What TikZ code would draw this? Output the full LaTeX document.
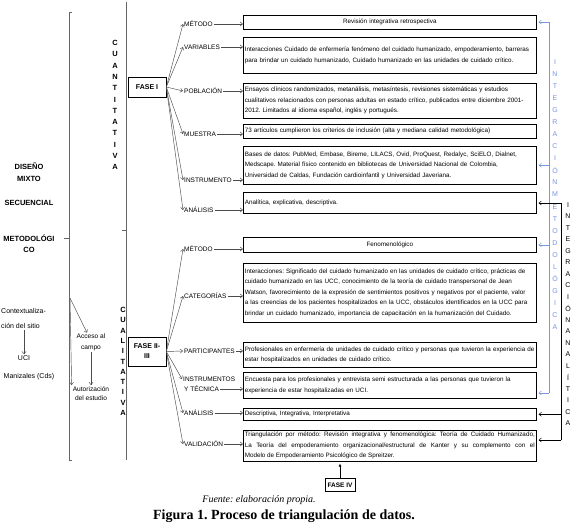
\documentclass[tikz,border=0pt]{standalone}
\usepackage{fontspec}
\setmainfont{Liberation Sans}
\newfontfamily\capfont{Liberation Serif}
\usetikzlibrary{arrows.meta}
\definecolor{azulint}{RGB}{120,150,225}
\frenchspacing
\tikzset{
  caja/.style={draw, line width=0.6pt, inner xsep=1.5pt, inner ysep=0pt, text width=290pt,
    anchor=north west, font=\fontsize{6.3}{10.5}\selectfont, align=left},
  etiqueta/.style={inner sep=1pt, anchor=west, font=\fontsize{6.5}{7.5}\selectfont},
  fase/.style={draw, line width=0.6pt, inner sep=1pt, font=\bfseries\fontsize{7}{10}\selectfont, align=center},
  izq/.style={inner sep=1pt, font=\bfseries\fontsize{7.5}{12}\selectfont, align=center},
  nota/.style={inner sep=1pt, font=\fontsize{6.6}{11}\selectfont, align=center},
  letra/.style={inner sep=0pt, font=\bfseries\fontsize{7.5}{8}\selectfont},
  flecha/.style={draw=black!70, line width=0.45pt, -{Straight Barb[length=2.5pt,width=4pt]}},
  llave/.style={draw=black!60, line width=0.7pt},
  metodo/.style={draw=azulint, line width=0.6pt},
  analitica/.style={draw=black, line width=0.6pt},
}
\begin{document}
\begin{tikzpicture}[x=1pt, y=-1pt]
  \useasboundingbox[fill=white] (0,0) rectangle (575,529);

  \draw [llave] (72,12) -- (69,12) -- (69,460) -- (72,460);
  \draw [llave] (64,238) -- (69,238);
  \draw [llave] (126,2) -- (126,460);
  \draw [llave] (122,230) -- (126,230);

  \node [izq] (diseno) at (29,172) {DISEÑO\\MIXTO};
  \node [izq] (secuencial) at (29,203) {SECUENCIAL};
  \node [izq, font=\bfseries\fontsize{7.5}{11}\selectfont] (metodologico) at (29,243.5) {METODOLÓGI\\CO};
  \node [nota, anchor=west, align=left, font=\fontsize{7}{14.5}\selectfont] (contexto) at (0,318.5) {Contextualiza-\\ción del sitio};
  \node [nota, font=\fontsize{7}{8}\selectfont] (uci) at (24,358) {UCI};
  \node [nota, font=\fontsize{7}{8}\selectfont] (manizales) at (29,377) {Manizales (Cds)};
  \node [nota] (acceso) at (91,342.5) {Acceso al\\campo};
  \node [nota, font=\fontsize{6.6}{9.5}\selectfont] (autorizacion) at (91,393.5) {Autorización\\del estudio};
  \coordinate (campo) at (70,298);

  \draw [flecha] (uci.north |- contexto.south) -- (uci.north);
  \draw [flecha] (campo) -- ([xshift=-4pt]acceso.north);
  \draw [flecha] (campo) -- (autorizacion.north west);
  \draw [flecha] (acceso.south) -- (autorizacion.north);

  \foreach \l [count=\i from 0] in {C,U,A,N,T,I,T,A,T,I,V,A}
    \node [letra] (cn\i) at (115, 43+11.3*\i) {\l};
  \foreach \l [count=\i from 0] in {C,U,A,L,I,T,A,T,I,V,A}
    \node [letra] (cl\i) at (123, 310+10.3*\i) {\l};

  \node [fase, minimum width=38pt, minimum height=20pt] (fase1) at (147,87) {FASE I};
  \node [fase, minimum width=38pt, minimum height=29pt] (fase2) at (147,351.5) {FASE II-\\III};
  \node [fase, minimum width=30pt, minimum height=13pt, font=\bfseries\fontsize{6.5}{8}\selectfont] (fase4) at (340,485) {FASE IV};

  \node [etiqueta] (met1) at (183,24) {MÉTODO};
  \node [etiqueta] (var1) at (183,47) {VARIABLES};
  \node [etiqueta] (pob1) at (183,91) {POBLACIÓN};
  \node [etiqueta] (mue1) at (183,134) {MUESTRA};
  \node [etiqueta] (ins1) at (183,180) {INSTRUMENTO};
  \node [etiqueta] (ana1) at (183,210) {ANÁLISIS};
  \node [etiqueta] (met2) at (183,249) {MÉTODO};
  \node [etiqueta] (cat2) at (183,296) {CATEGORÍAS};
  \node [etiqueta] (par2) at (183,351) {PARTICIPANTES};
  \node [etiqueta] (ins2) at (182,379) {INSTRUMENTOS};
  \node [etiqueta] (tec2) at (183,389) {Y TÉCNICA};
  \node [etiqueta] (ana2) at (183,413) {ANÁLISIS};
  \node [etiqueta] (val2) at (183,444) {VALIDACIÓN};

  \node [caja, align=center, minimum height=14pt] (b1) at (243,15) {Revisión integrativa retrospectiva};
  \node [caja, minimum height=36pt] (b2) at (243,37) {Interacciones Cuidado de enfermería fenómeno del cuidado humanizado, empoderamiento, barreras\\para brindar un cuidado humanizado, Cuidado humanizado en las unidades de cuidado crítico.};
  \node [caja, minimum height=35pt] (b3) at (243,83) {Ensayos clínicos randomizados, metanálisis, metasíntesis, revisiones sistemáticas y estudios\\cualitativos relacionados con personas adultas en estado crítico, publicados entre diciembre 2001-\\2012. Limitados al idioma español, inglés y portugués.};
  \node [caja, minimum height=14pt] (b4) at (243,124) {73 artículos cumplieron los criterios de inclusión (alta y mediana calidad metodológica)};
  \node [caja, minimum height=38pt] (b5) at (243,146) {Bases de datos: PubMed, Embase, Bireme, LILACS, Ovid, ProQuest, Redalyc, SciELO, Dialnet,\\Medscape. Material físico contenido en bibliotecas de Universidad Nacional de Colombia,\\Universidad de Caldas, Fundación cardioinfantil y Universidad Javeriana.};
  \node [caja, minimum height=21pt] (b6) at (243,192) {Analítica, explicativa, descriptiva.};
  \node [caja, align=center, minimum height=15pt] (b7) at (243,237) {Fenomenológico};
  \node [caja, minimum height=59pt] (b8) at (243,263) {Interacciones: Significado del cuidado humanizado en las unidades de cuidado crítico, prácticas de\\cuidado humanizado en las UCC, conocimiento de la teoría de cuidado transpersonal de Jean\\Watson, favorecimiento de la expresión de sentimientos positivos y negativos por el paciente, valor\\a las creencias de los pacientes hospitalizados en la UCC, obstáculos identificados en la UCC para\\brindar un cuidado humanizado, importancia de capacitación en la humanización del Cuidado.};
  \node [caja, minimum height=25pt] (b9) at (243,342) {Profesionales en enfermería de unidades de cuidado crítico y personas que tuvieron la experiencia de\\estar hospitalizados en unidades de cuidado crítico.};
  \node [caja, minimum height=26pt] (b10) at (243,372) {Encuesta para los profesionales y entrevista semi estructurada a las personas que tuvieron la\\experiencia de estar hospitalizadas en UCI.};
  \node [caja, minimum height=12pt] (b11) at (243,408) {Descriptiva, Integrativa, Interpretativa};
  \node [caja, align=justify, minimum height=31pt] (b12) at (243,430) {Triangulación por método: Revisión integrativa y fenomenológica: Teoría de Cuidado Humanizado,\linebreak La Teoría del empoderamiento organizacional/estructural de Kanter y su complemento con el\linebreak Modelo de Empoderamiento Psicológico de Spreitzer.};

  \foreach \n in {met1,var1,pob1,mue1,ins1,ana1}
    \draw [flecha] (fase1.east) -- (\n.west);
  \foreach \n in {met2,cat2,par2,ins2,ana2,val2}
    \draw [flecha] (fase2.east) -- (\n.west);
  \foreach \n/\b in {met1/b1,var1/b2,pob1/b3,mue1/b4,ins1/b5,ana1/b6,met2/b7,cat2/b8,par2/b9,tec2/b10,ana2/b11,val2/b12}
    \draw [flecha] (\n.east) -- (\n.east -| \b.west);
  \draw [-{Latex[length=3pt,width=3pt]}, line width=0.6pt, shorten >=2pt] (fase4.north) -- (fase4.north |- b12.south);

  \coordinate (mtop) at (549,22);
  \coordinate (mbot) at (549,393);
  \draw [metodo] (mtop) -- (mbot);
  \foreach \b in {b5,b7}
    \draw [flecha, draw=azulint, shorten >=2pt] (\b.east -| mtop) -- (\b.east);
  \draw [flecha, draw=azulint, shorten >=2pt] (mtop) -- (mtop -| b1.east);
  \draw [flecha, draw=azulint, shorten >=2pt] (mbot) -- (mbot -| b10.east);
  \foreach \l [count=\i from 0] in {I,N,T,E,G,R,A,C,I,Ó,N,M,E,T,O,D,O,L,Ó,G,I,C,A}
    \node [letra, font=\fontsize{7}{8}\selectfont, text=azulint] (im\i) at (555, 62+12.05*\i) {\l};

  \coordinate (atop) at (561,203);
  \coordinate (abot) at (561,440);
  \draw [analitica] (atop) -- (abot);
  \draw [flecha, draw=black, shorten >=2pt] (atop) -- (atop -| b6.east);
  \draw [flecha, draw=black, shorten >=2pt] (b11.east -| atop) -- (b11.east);
  \draw [flecha, draw=black, shorten >=2pt] (abot) -- (abot -| b12.east);
  \foreach \l [count=\i from 0] in {I,N,T,E,G,R,A,C,I,Ó,N,A,N,A,L,Í,T,I,C,A}
    \node [letra, font=\fontsize{7}{8}\selectfont] (ia\i) at (568, 205+11.5*\i) {\l};

  \node [font=\capfont\itshape\fontsize{10}{12}\selectfont] (fuente) at (259,500) {Fuente: elaboración propia.};
  \node [font=\capfont\bfseries\fontsize{14}{16}\selectfont] (figura) at (284,516) {Figura 1. Proceso de triangulación de datos.};
\end{tikzpicture}
\end{document}
